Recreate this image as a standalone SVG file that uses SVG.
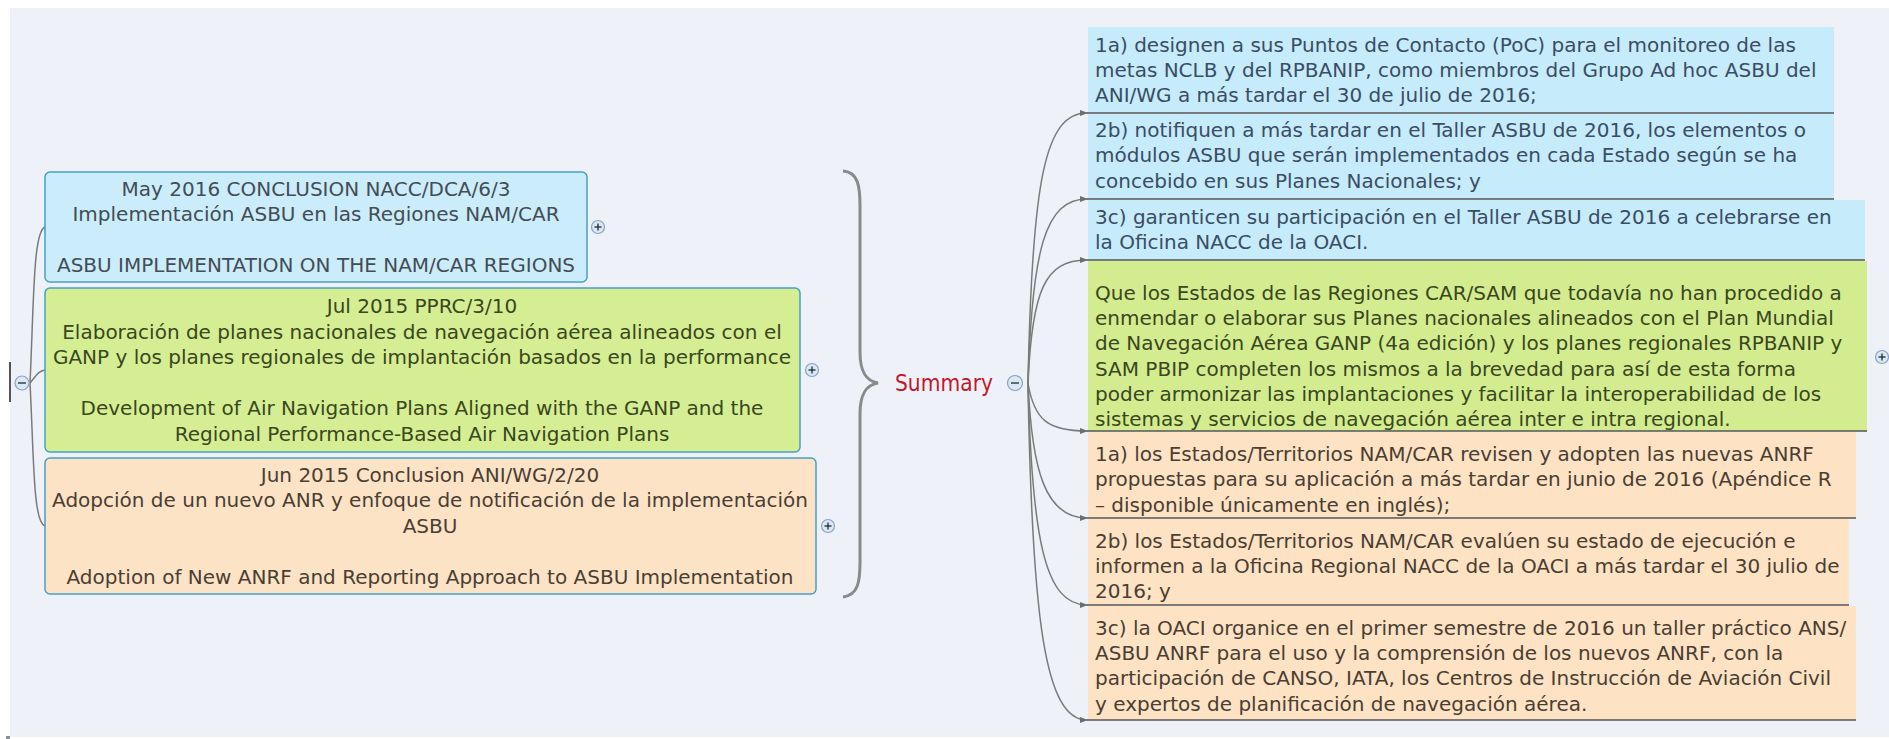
<svg xmlns="http://www.w3.org/2000/svg" width="1889" height="739" viewBox="0 0 1889 739">
<defs>
<style>
.t{font-family:"DejaVu Sans",Verdana,sans-serif;font-size:20px}
.c{text-anchor:middle}
.lb{fill:#cbedfb;stroke:#45a0c6;stroke-width:1.5}
.lg{fill:#d5ee93;stroke:#45a0c6;stroke-width:1.5}
.lo{fill:#fde3c6;stroke:#45a0c6;stroke-width:1.5}
.fb{fill:#c6ebfb}
.fg{fill:#d4ec90}
.fo{fill:#fde2c4}
.tb{fill:#3b4d63}
.tg{fill:#3a4720}
.to{fill:#4a3e33}
.tl{fill:#444c55}
.ul{stroke:#555;stroke-width:1.6;fill:none}
.con{stroke:#7a7a7a;stroke-width:1.5;fill:none}
.ico{fill:#dce7f4;stroke:#86a2c8;stroke-width:1.2}
.sgn{stroke:#2a3340;stroke-width:1.4}
</style>
<marker id="ar" viewBox="0 0 8 6" refX="7" refY="3" markerWidth="8" markerHeight="6" orient="auto" markerUnits="userSpaceOnUse">
<path d="M0,0 L8,3 L0,6 z" fill="#6d6d6d"/>
</marker>
</defs>
<rect x="0" y="0" width="1889" height="739" fill="#ffffff"/>
<rect x="10" y="8" width="1879" height="729" fill="#eef2f8"/>
<rect x="6" y="736" width="4" height="3" fill="#8a9099"/>
<line x1="10" y1="362" x2="10" y2="402" stroke="#555" stroke-width="2"/>

<g id="connectors">
<path class="con" d="M30,383 C34,300 33,232 45,227"/>
<path class="con" d="M30,383 C36,376 38,371 45,370"/>
<path class="con" d="M30,383 C34,460 33,522 45,526"/>
<path class="con" d="M1028,383 C1032,180 1045,113 1087,113" marker-end="url(#ar)"/>
<path class="con" d="M1028,383 C1032,250 1045,199 1087,199" marker-end="url(#ar)"/>
<path class="con" d="M1028,383 C1032,290 1045,260 1087,260" marker-end="url(#ar)"/>
<path class="con" d="M1028,383 C1034,420 1048,431 1087,431" marker-end="url(#ar)"/>
<path class="con" d="M1028,383 C1032,470 1045,518 1087,518" marker-end="url(#ar)"/>
<path class="con" d="M1028,383 C1032,540 1045,605 1087,605" marker-end="url(#ar)"/>
<path class="con" d="M1028,383 C1032,620 1045,720 1087,720" marker-end="url(#ar)"/>
</g>

<g id="brace">
<path d="M843,171 C858,172 860,186 860,206 L860,352 C860,372 866,381 878,383 C866,385 860,394 860,414 L860,562 C860,582 858,595 843,597" fill="none" stroke="#8a8a8a" stroke-width="3"/>
</g>

<g id="left-root">
<circle class="ico" cx="22" cy="383" r="7"/>
<line class="sgn" x1="18" y1="383" x2="26" y2="383"/>
</g>

<g id="node-l1">
<rect class="lb" x="45" y="172" width="542" height="110" rx="5"/>
<text class="t c tl" x="316" y="196">May 2016 CONCLUSION NACC/DCA/6/3</text>
<text class="t c tl" x="316" y="221">Implementación ASBU en las Regiones NAM/CAR</text>
<text class="t c tl" x="316" y="272">ASBU IMPLEMENTATION ON THE NAM/CAR REGIONS</text>
<circle class="ico" cx="598" cy="227" r="6.5"/>
<line class="sgn" x1="594.5" y1="227" x2="601.5" y2="227"/>
<line class="sgn" x1="598" y1="223.5" x2="598" y2="230.5"/>
</g>

<g id="node-l2">
<rect class="lg" x="45" y="288" width="755" height="164" rx="5"/>
<text class="t c tg" x="422" y="313">Jul 2015 PPRC/3/10</text>
<text class="t c tg" x="422" y="339">Elaboración de planes nacionales de navegación aérea alineados con el</text>
<text class="t c tg" x="422" y="364">GANP y los planes regionales de implantación basados en la performance</text>
<text class="t c tg" x="422" y="415">Development of Air Navigation Plans Aligned with the GANP and the</text>
<text class="t c tg" x="422" y="441">Regional Performance-Based Air Navigation Plans</text>
<circle class="ico" cx="812" cy="370" r="6.5"/>
<line class="sgn" x1="808.5" y1="370" x2="815.5" y2="370"/>
<line class="sgn" x1="812" y1="366.5" x2="812" y2="373.5"/>
</g>

<g id="node-l3">
<rect class="lo" x="45" y="458" width="771" height="136" rx="5"/>
<text class="t c to" x="430" y="482">Jun 2015 Conclusion ANI/WG/2/20</text>
<text class="t c to" x="430" y="507">Adopción de un nuevo ANR y enfoque de notificación de la implementación</text>
<text class="t c to" x="430" y="533">ASBU</text>
<text class="t c to" x="430" y="584">Adoption of New ANRF and Reporting Approach to ASBU Implementation</text>
<circle class="ico" cx="828" cy="526" r="6.5"/>
<line class="sgn" x1="824.5" y1="526" x2="831.5" y2="526"/>
<line class="sgn" x1="828" y1="522.5" x2="828" y2="529.5"/>
</g>

<g id="node-summary">
<text x="895" y="391" font-family="'Comic Sans MS','DejaVu Sans',sans-serif" font-size="23" fill="#c4162c" textLength="98" lengthAdjust="spacingAndGlyphs">Summary</text>
<circle class="ico" cx="1015" cy="383" r="7.5"/>
<line class="sgn" x1="1011" y1="383" x2="1019" y2="383"/>
</g>

<g id="node-r1">
<rect class="fb" x="1088" y="27" width="746" height="86"/>
<line class="ul" x1="1087" y1="113" x2="1834" y2="113"/>
<text class="t tb" x="1095" y="52">1a) designen a sus Puntos de Contacto (PoC) para el monitoreo de las</text>
<text class="t tb" x="1095" y="77">metas NCLB y del RPBANIP, como miembros del Grupo Ad hoc ASBU del</text>
<text class="t tb" x="1095" y="102">ANI/WG a más tardar el 30 de julio de 2016;</text>
</g>

<g id="node-r2">
<rect class="fb" x="1088" y="114" width="746" height="85"/>
<line class="ul" x1="1087" y1="199" x2="1834" y2="199"/>
<text class="t tb" x="1095" y="137">2b) notifiquen a más tardar en el Taller ASBU de 2016, los elementos o</text>
<text class="t tb" x="1095" y="162">módulos ASBU que serán implementados en cada Estado según se ha</text>
<text class="t tb" x="1095" y="188">concebido en sus Planes Nacionales; y</text>
</g>

<g id="node-r3">
<rect class="fb" x="1088" y="200" width="777" height="60"/>
<line class="ul" x1="1087" y1="260" x2="1865" y2="260"/>
<text class="t tb" x="1095" y="224">3c) garanticen su participación en el Taller ASBU de 2016 a celebrarse en</text>
<text class="t tb" x="1095" y="249">la Oficina NACC de la OACI.</text>
</g>

<g id="node-r4">
<rect class="fg" x="1088" y="261" width="779" height="170"/>
<line class="ul" x1="1087" y1="431" x2="1867" y2="431"/>
<text class="t tg" x="1095" y="300">Que los Estados de las Regiones CAR/SAM que todavía no han procedido a</text>
<text class="t tg" x="1095" y="325">enmendar o elaborar sus Planes nacionales alineados con el Plan Mundial</text>
<text class="t tg" x="1095" y="350">de Navegación Aérea GANP (4a edición) y los planes regionales RPBANIP y</text>
<text class="t tg" x="1095" y="376">SAM PBIP completen los mismos a la brevedad para así de esta forma</text>
<text class="t tg" x="1095" y="401">poder armonizar las implantaciones y facilitar la interoperabilidad de los</text>
<text class="t tg" x="1095" y="426">sistemas y servicios de navegación aérea inter e intra regional.</text>
<circle class="ico" cx="1882" cy="357" r="6.5"/>
<line class="sgn" x1="1878.5" y1="357" x2="1885.5" y2="357"/>
<line class="sgn" x1="1882" y1="353.5" x2="1882" y2="360.5"/>
</g>

<g id="node-r5">
<rect class="fo" x="1088" y="432" width="768" height="86"/>
<line class="ul" x1="1087" y1="518" x2="1856" y2="518"/>
<text class="t to" x="1095" y="461">1a) los Estados/Territorios NAM/CAR revisen y adopten las nuevas ANRF</text>
<text class="t to" x="1095" y="486">propuestas para su aplicación a más tardar en junio de 2016 (Apéndice R</text>
<text class="t to" x="1095" y="512">– disponible únicamente en inglés);</text>
</g>

<g id="node-r6">
<rect class="fo" x="1088" y="519" width="761" height="86"/>
<line class="ul" x1="1087" y1="605" x2="1849" y2="605"/>
<text class="t to" x="1095" y="548">2b) los Estados/Territorios NAM/CAR evalúen su estado de ejecución e</text>
<text class="t to" x="1095" y="573">informen a la Oficina Regional NACC de la OACI a más tardar el 30 julio de</text>
<text class="t to" x="1095" y="598">2016; y</text>
</g>

<g id="node-r7">
<rect class="fo" x="1088" y="606" width="768" height="114"/>
<line class="ul" x1="1087" y1="720" x2="1856" y2="720"/>
<text class="t to" x="1095" y="635">3c) la OACI organice en el primer semestre de 2016 un taller práctico ANS/</text>
<text class="t to" x="1095" y="660">ASBU ANRF para el uso y la comprensión de los nuevos ANRF, con la</text>
<text class="t to" x="1095" y="685">participación de CANSO, IATA, los Centros de Instrucción de Aviación Civil</text>
<text class="t to" x="1095" y="711">y expertos de planificación de navegación aérea.</text>
</g>
</svg>
